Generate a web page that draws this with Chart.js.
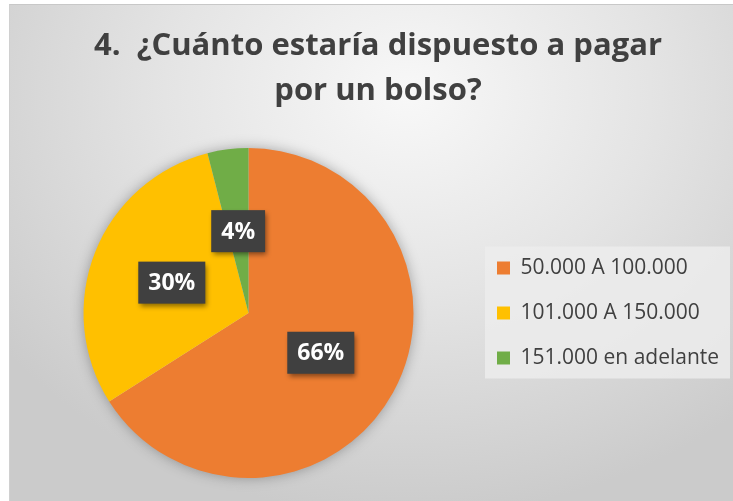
<!DOCTYPE html>
<html>
<head>
<meta charset="utf-8">
<script src="https://cdn.jsdelivr.net/npm/chart.js@4.4.1/dist/chart.umd.min.js"></script>
<style>
  body { margin: 0; background: #fff; }
  #wrap { position: relative; width: 733px; height: 501px; overflow: hidden; }
  #bg {
    position: absolute; left: 9px; top: 4px; right: 0; bottom: 0;
    border-left: 1px solid #d0d0d0; border-top: 1px solid #c8c8c8;
    background: radial-gradient(ellipse 70% 85% at 55% 18%, #f8f8f8 0%, #e4e4e4 48%, #cbcbcb 100%);
  }
  #chart { position: absolute; left: 0; top: 0; }
</style>
</head>
<body>
<div id="wrap">
  <div id="bg"></div>
  <canvas id="chart" width="733" height="501"></canvas>
</div>
<script>
const titleLines = ['4.  ¿Cuánto estaría dispuesto a pagar', 'por un bolso?'];
const categories = ['50.000 A 100.000', '101.000 A 150.000', '151.000 en adelante'];
const shares = [66, 30, 4];
const sliceColors = ['#ED7D31', '#FFC000', '#70AD47'];

const textColor = '#404040';

// fix the legend width so the pie and the title sit where the original has them
const legendWidth = {
    id: 'legendWidth',
    beforeLayout(chart) {
        const lg = chart.legend;
        if (lg && !lg._fixedWidth) {
            const fit = lg.fit;
            lg.fit = function () {
                fit.call(this);
                this.width = 259;
            };
            lg._fixedWidth = true;
        }
    }
};

// soft shadow behind the whole pie plus the light legend panel
const backdrop = {
    id: 'backdrop',
    beforeDraw(chart) {
        const lg = chart.legend;
        if (!lg) return;
        const ctx = chart.ctx;
        const n = chart.data.labels.length;
        const lineH = 21 + 24;
        const mid = (lg.top + lg.bottom) / 2;
        ctx.save();
        ctx.fillStyle = 'rgba(236,236,236,0.85)';
        ctx.fillRect(lg.left + 12, mid - n * lineH / 2 + 1, chart.width - lg.left - 15, n * lineH - 3);
        ctx.restore();
    },
    beforeDatasetsDraw(chart) {
        const arc = chart.getDatasetMeta(0).data[0];
        if (!arc) return;
        const ctx = chart.ctx;
        ctx.save();
        ctx.shadowColor = 'rgba(0,0,0,0.35)';
        ctx.shadowBlur = 14;
        ctx.fillStyle = '#cccccc';
        ctx.beginPath();
        ctx.arc(arc.x, arc.y, arc.outerRadius - 1, 0, Math.PI * 2);
        ctx.fill();
        ctx.restore();
    }
};

// dark boxed percentage labels
const boxLabels = {
    id: 'boxLabels',
    afterDatasetsDraw(chart) {
        const ctx = chart.ctx;
        const meta = chart.getDatasetMeta(0);
        const values = chart.data.datasets[0].data;
        ctx.save();
        ctx.font = 'bold 23px "Open Sans"';
        ctx.textAlign = 'center';
        ctx.textBaseline = 'middle';
        meta.data.forEach((arc, i) => {
            const p = arc.tooltipPosition();
            const txt = values[i] + '%';
            const w = ctx.measureText(txt).width + 20;
            const h = 42;
            ctx.shadowColor = 'rgba(0,0,0,0.45)';
            ctx.shadowBlur = 5;
            ctx.shadowOffsetX = 2;
            ctx.shadowOffsetY = 3;
            ctx.fillStyle = '#404040';
            ctx.fillRect(p.x - w / 2, p.y - h / 2, w, h);
            ctx.shadowColor = 'transparent';
            ctx.fillStyle = '#ffffff';
            ctx.fillText(txt, p.x, p.y + 1);
        });
        ctx.restore();
    }
};

new Chart(document.getElementById('chart'), {
    type: 'pie',
    data: {
        labels: categories,
        datasets: [{
            data: shares,
            backgroundColor: sliceColors,
            borderWidth: 0
        }]
    },
    options: {
        responsive: false,
        animation: false,
        layout: { padding: { left: 24, right: 1, top: 0, bottom: 23 } },
        plugins: {
            title: {
                display: true,
                text: titleLines,
                color: textColor,
                font: { family: 'Open Sans', size: 31, weight: 'bold', lineHeight: '45px' },
                padding: { top: 24, bottom: 34 }
            },
            legend: {
                position: 'right',
                fullSize: false,
                labels: {
                    color: textColor,
                    boxWidth: 13,
                    boxHeight: 13,
                    padding: 24,
                    font: { family: 'Open Sans', size: 21 }
                }
            },
            tooltip: { enabled: false }
        }
    },
    plugins: [legendWidth, backdrop, boxLabels]
});
</script>
</body>
</html>
